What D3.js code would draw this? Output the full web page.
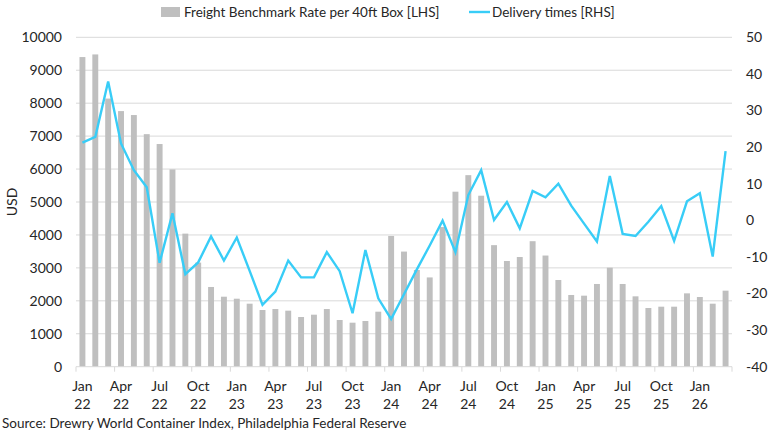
<!DOCTYPE html>
<html lang="en">
<head>
<meta charset="utf-8"/>
<style>
body { margin: 0; background: #fff; }
text { font-family: Lato, "Open Sans", sans-serif; fill: #262626; }
</style>
</head>
<body>
<svg width="770" height="432"></svg>
<script src="https://d3js.org/d3.v7.min.js"></script>
<script>

// monthly from Jan 22 to Mar 26
var months = ["Jan 22","Feb 22","Mar 22","Apr 22","May 22","Jun 22","Jul 22","Aug 22","Sep 22","Oct 22","Nov 22","Dec 22",
  "Jan 23","Feb 23","Mar 23","Apr 23","May 23","Jun 23","Jul 23","Aug 23","Sep 23","Oct 23","Nov 23","Dec 23",
  "Jan 24","Feb 24","Mar 24","Apr 24","May 24","Jun 24","Jul 24","Aug 24","Sep 24","Oct 24","Nov 24","Dec 24",
  "Jan 25","Feb 25","Mar 25","Apr 25","May 25","Jun 25","Jul 25","Aug 25","Sep 25","Oct 25","Nov 25","Dec 25",
  "Jan 26","Feb 26","Mar 26"];

// Freight Benchmark Rate per 40ft Box (USD, left axis)
var freight = [9400, 9480, 8140, 7760, 7640, 7060, 6760, 5990, 4040, 3160, 2420, 2125,
  2064, 1913, 1721, 1751, 1701, 1509, 1579, 1751, 1418, 1336, 1387, 1670,
  3970, 3495, 2936, 2710, 4240, 5313, 5815, 5191, 3690, 3209, 3330, 3810,
  3375, 2632, 2177, 2156, 2511, 3006, 2511, 2136, 1782, 1822, 1822, 2227,
  2116, 1913, 2308];

// Delivery times (right axis)
var delivery = [21.2, 22.8, 37.9, 21.0, 13.7, 9.0, -11.6, 1.9, -14.7, -11.5, -4.4, -11.0,
  -4.7, -13.8, -23.1, -19.5, -11.0, -15.6, -15.6, -8.7, -13.9, -25.4, -8.1, -21.3,
  -27.0, -20.2, -13.4, -6.9, -0.1, -8.7, 6.9, 13.7, 0.1, 5.0, -2.2, 8.0,
  6.3, 10.0, 4.0, -0.9, -5.8, 12.1, -3.7, -4.3, -0.4, 3.9, -5.6, 5.2,
  7.4, -9.9, 18.9];

var leftTicks = [0, 1000, 2000, 3000, 4000, 5000, 6000, 7000, 8000, 9000, 10000];
var rightTicks = [-40, -30, -20, -10, 0, 10, 20, 30, 40, 50];

var svg = d3.select("svg"),
    margin = {top: 37.3, right: 38, bottom: 65.3, left: 76},
    width = +svg.attr("width") - margin.left - margin.right,
    height = +svg.attr("height") - margin.top - margin.bottom,
    g = svg.append("g").attr("transform", "translate(" + margin.left + "," + margin.top + ")");

var x = d3.scaleBand().domain(months).range([0, width]).padding(0);
var y = d3.scaleLinear().domain([0, 10000]).range([height, 0]);
var y2 = d3.scaleLinear().domain([-40, 50]).range([height, 0]);

// gridlines
g.append("g")
  .selectAll("line")
  .data(leftTicks.slice(1))
  .enter().append("line")
  .attr("x1", 0).attr("x2", width)
  .attr("y1", function(d) { return y(d); })
  .attr("y2", function(d) { return y(d); })
  .attr("stroke", "#d9d9d9")
  .attr("stroke-width", 1);

// bars
var barW = x.bandwidth() * 0.46;
g.append("g")
  .attr("fill", "#bfbfbf")
  .selectAll("rect")
  .data(freight)
  .enter().append("rect")
  .attr("x", function(d, i) { return x(months[i]) + (x.bandwidth() - barW) / 2; })
  .attr("y", function(d) { return y(d); })
  .attr("width", barW)
  .attr("height", function(d) { return height - y(d); });

// x axis line + ticks every 3 months
g.append("line")
  .attr("x1", 0).attr("x2", width)
  .attr("y1", height).attr("y2", height)
  .attr("stroke", "#d9d9d9");

var tickIdx = d3.range(0, months.length + 1, 3);
g.append("g")
  .selectAll("line")
  .data(tickIdx)
  .enter().append("line")
  .attr("x1", function(i) { return i * x.step(); })
  .attr("x2", function(i) { return i * x.step(); })
  .attr("y1", height).attr("y2", height + 5)
  .attr("stroke", "#d9d9d9");

var xLab = g.append("g")
  .attr("font-size", 14)
  .attr("text-anchor", "middle")
  .selectAll("text")
  .data(months.filter(function(d, i) { return i % 3 === 0; }))
  .enter().append("text")
  .attr("transform", function(d) { return "translate(" + (x(d) + x.bandwidth() / 2) + "," + (height + 24) + ")"; });
xLab.append("tspan").attr("x", 0).text(function(d) { return d.split(" ")[0]; });
xLab.append("tspan").attr("x", 0).attr("dy", 18).text(function(d) { return d.split(" ")[1]; });

// delivery line
var line = d3.line()
  .x(function(d, i) { return x(months[i]) + x.bandwidth() / 2; })
  .y(function(d) { return y2(d); });

g.append("path")
  .datum(delivery)
  .attr("fill", "none")
  .attr("stroke", "#38cdf7")
  .attr("stroke-width", 2.4)
  .attr("stroke-linejoin", "miter")
  .attr("d", line);

// left axis labels
g.append("g")
  .attr("font-size", 14)
  .attr("text-anchor", "end")
  .selectAll("text")
  .data(leftTicks)
  .enter().append("text")
  .attr("x", -14)
  .attr("y", function(d) { return y(d); })
  .attr("dy", "0.35em")
  .text(function(d) { return d; });

// right axis labels
g.append("g")
  .attr("font-size", 14)
  .attr("text-anchor", "start")
  .selectAll("text")
  .data(rightTicks)
  .enter().append("text")
  .attr("x", width + 14)
  .attr("y", function(d) { return y2(d); })
  .attr("dy", "0.35em")
  .text(function(d) { return d; });

// USD title
svg.append("text")
  .attr("transform", "translate(17,202) rotate(-90)")
  .attr("text-anchor", "middle")
  .attr("font-size", 14)
  .text("USD");

// legend
var legend = svg.append("g").attr("font-size", 13.5);
legend.append("rect")
  .attr("x", 161).attr("y", 7).attr("width", 19).attr("height", 10)
  .attr("fill", "#bfbfbf");
legend.append("text")
  .attr("x", 184).attr("y", 12).attr("dy", "0.35em")
  .text("Freight Benchmark Rate per 40ft Box [LHS]");
legend.append("line")
  .attr("x1", 469).attr("x2", 490).attr("y1", 12).attr("y2", 12)
  .attr("stroke", "#38cdf7").attr("stroke-width", 2.4);
legend.append("text")
  .attr("x", 492).attr("y", 12).attr("dy", "0.35em")
  .text("Delivery times [RHS]");

// source
svg.append("text")
  .attr("x", 2).attr("y", 423).attr("dy", "0.35em")
  .attr("font-size", 13.5)
  .text("Source: Drewry World Container Index, Philadelphia Federal Reserve");

</script>
</body>
</html>
